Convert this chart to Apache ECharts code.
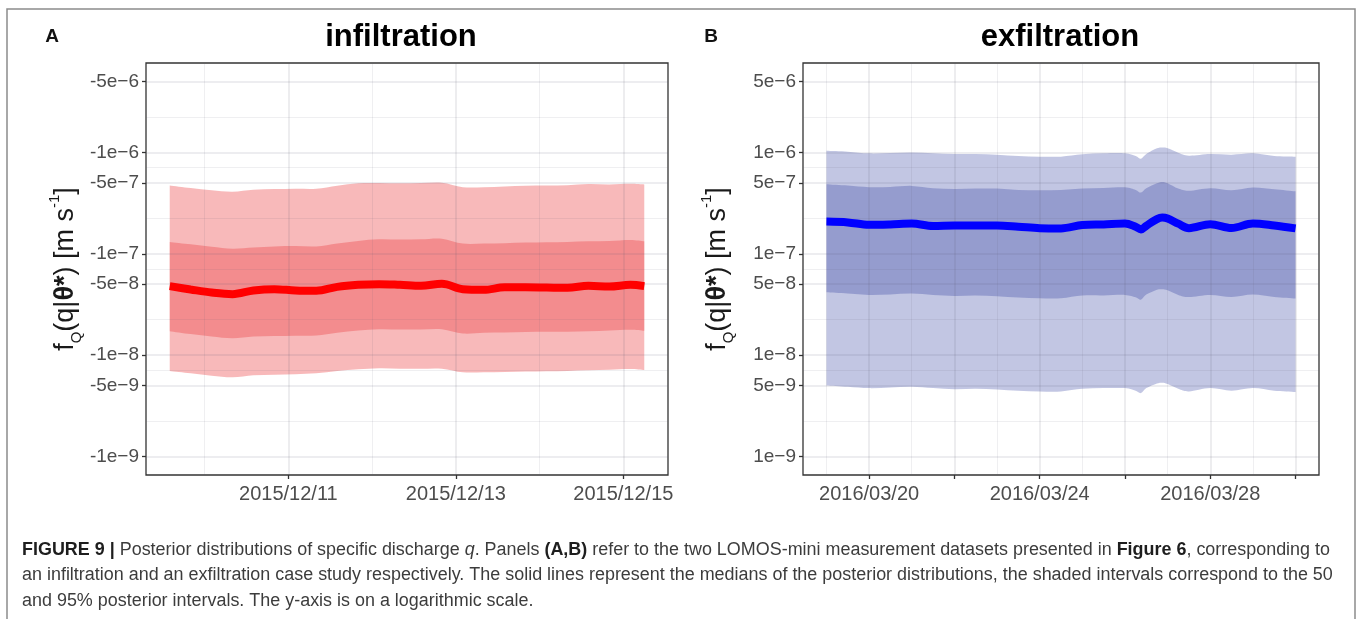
<!DOCTYPE html>
<html><head><meta charset="utf-8">
<script src="https://cdn.jsdelivr.net/npm/echarts@6/dist/echarts.min.js"></script>
<style>html,body{margin:0;padding:0;background:#fff}#c{width:1358px;height:619px}</style>
</head><body><div id="c"></div>
<script>
// ================= DATA =================
// Panel A (infiltration): times and posterior quantiles of q [m s^-1]
const timesA = ['2015-12-09 14:00','2015-12-09 20:00','2015-12-10 02:00','2015-12-10 08:00','2015-12-10 14:00','2015-12-10 20:00','2015-12-11 02:00','2015-12-11 08:00','2015-12-11 14:00','2015-12-11 20:00','2015-12-12 02:00','2015-12-12 08:00','2015-12-12 14:00','2015-12-12 20:00','2015-12-13 02:00','2015-12-13 08:00','2015-12-13 14:00','2015-12-13 20:00','2015-12-14 02:00','2015-12-14 08:00','2015-12-14 14:00','2015-12-14 20:00','2015-12-15 02:00','2015-12-15 06:00'];
const q025A = [-4.73e-7,-4.46e-7,-4.23e-7,-4.10e-7,-4.29e-7,-4.35e-7,-4.39e-7,-4.39e-7,-4.70e-7,-4.96e-7,-4.99e-7,-4.96e-7,-4.99e-7,-5.03e-7,-4.55e-7,-4.55e-7,-4.62e-7,-4.70e-7,-4.73e-7,-4.76e-7,-4.88e-7,-4.84e-7,-4.91e-7,-4.84e-7];
const q25A  = [-1.31e-7,-1.24e-7,-1.17e-7,-1.12e-7,-1.15e-7,-1.18e-7,-1.19e-7,-1.18e-7,-1.26e-7,-1.34e-7,-1.39e-7,-1.38e-7,-1.39e-7,-1.41e-7,-1.26e-7,-1.26e-7,-1.27e-7,-1.29e-7,-1.30e-7,-1.31e-7,-1.33e-7,-1.34e-7,-1.37e-7,-1.33e-7];
const medianA = [-4.79e-8,-4.44e-8,-4.14e-8,-3.99e-8,-4.34e-8,-4.47e-8,-4.34e-8,-4.31e-8,-4.71e-8,-4.93e-8,-5.01e-8,-4.93e-8,-4.82e-8,-5.05e-8,-4.47e-8,-4.40e-8,-4.67e-8,-4.67e-8,-4.64e-8,-4.61e-8,-4.82e-8,-4.75e-8,-4.93e-8,-4.79e-8];
const q75A  = [-1.72e-8,-1.61e-8,-1.52e-8,-1.46e-8,-1.52e-8,-1.54e-8,-1.55e-8,-1.56e-8,-1.66e-8,-1.75e-8,-1.80e-8,-1.79e-8,-1.79e-8,-1.80e-8,-1.63e-8,-1.66e-8,-1.67e-8,-1.69e-8,-1.70e-8,-1.70e-8,-1.72e-8,-1.75e-8,-1.78e-8,-1.74e-8];
const q975A = [-6.95e-9,-6.59e-9,-6.25e-9,-6.02e-9,-6.30e-9,-6.40e-9,-6.45e-9,-6.59e-9,-6.95e-9,-7.22e-9,-7.39e-9,-7.33e-9,-7.33e-9,-7.33e-9,-6.75e-9,-6.75e-9,-6.80e-9,-6.86e-9,-6.91e-9,-6.95e-9,-7.06e-9,-7.16e-9,-7.28e-9,-7.11e-9];

// Panel B (exfiltration)
const timesB = ['2016-03-19 00:00','2016-03-19 12:00','2016-03-20 00:00','2016-03-20 12:00','2016-03-21 00:00','2016-03-21 12:00','2016-03-22 00:00','2016-03-22 12:00','2016-03-23 00:00','2016-03-23 12:00','2016-03-24 00:00','2016-03-24 12:00','2016-03-25 00:00','2016-03-25 12:00','2016-03-26 00:00','2016-03-26 06:00','2016-03-26 09:00','2016-03-26 12:00','2016-03-26 18:00','2016-03-26 21:00','2016-03-27 00:00','2016-03-27 06:00','2016-03-27 12:00','2016-03-28 00:00','2016-03-28 12:00','2016-03-29 00:00','2016-03-29 12:00','2016-03-30 00:00'];
const q025B = [5.01e-9,4.86e-9,4.71e-9,4.78e-9,4.86e-9,4.71e-9,4.60e-9,4.64e-9,4.57e-9,4.43e-9,4.37e-9,4.37e-9,4.64e-9,4.71e-9,4.71e-9,4.43e-9,4.21e-9,4.71e-9,5.24e-9,5.32e-9,5.16e-9,4.64e-9,4.37e-9,4.71e-9,4.43e-9,4.71e-9,4.43e-9,4.31e-9];
const q25B  = [4.16e-8,4.04e-8,3.92e-8,3.97e-8,4.04e-8,3.92e-8,3.83e-8,3.86e-8,3.80e-8,3.69e-8,3.63e-8,3.63e-8,3.86e-8,3.88e-8,3.92e-8,3.72e-8,3.52e-8,3.95e-8,4.41e-8,4.45e-8,4.35e-8,3.92e-8,3.74e-8,3.92e-8,3.74e-8,3.95e-8,3.74e-8,3.61e-8];
const medianB = [2.08e-7,2.04e-7,1.93e-7,1.95e-7,1.99e-7,1.88e-7,1.90e-7,1.90e-7,1.90e-7,1.85e-7,1.79e-7,1.78e-7,1.92e-7,1.95e-7,1.99e-7,1.85e-7,1.74e-7,1.89e-7,2.20e-7,2.28e-7,2.23e-7,1.98e-7,1.79e-7,1.96e-7,1.80e-7,1.99e-7,1.90e-7,1.78e-7];
const q75B  = [4.85e-7,4.71e-7,4.54e-7,4.57e-7,4.68e-7,4.44e-7,4.37e-7,4.40e-7,4.40e-7,4.27e-7,4.24e-7,4.27e-7,4.40e-7,4.47e-7,4.54e-7,4.27e-7,4.02e-7,4.44e-7,4.97e-7,5.12e-7,4.97e-7,4.40e-7,4.18e-7,4.44e-7,4.24e-7,4.51e-7,4.34e-7,4.14e-7];
const q975B = [1.04e-6,1.02e-6,9.81e-7,9.89e-7,1.00e-6,9.81e-7,9.66e-7,9.66e-7,9.52e-7,9.24e-7,9.10e-7,9.10e-7,9.59e-7,9.81e-7,9.81e-7,9.24e-7,8.69e-7,9.66e-7,1.10e-6,1.12e-6,1.10e-6,9.96e-7,9.31e-7,9.66e-7,9.52e-7,9.81e-7,9.24e-7,9.10e-7];

// Axis breaks / tick labels
const yBreaks = [1e-9,5e-9,1e-8,5e-8,1e-7,5e-7,1e-6,5e-6];
const xTicksA  = ['2015-12-11 00:00','2015-12-13 00:00','2015-12-15 00:00'];
const xLabelsA = ['2015-12-11 00:00','2015-12-13 00:00','2015-12-15 00:00'];
const xMinorA  = ['2015-12-10 00:00','2015-12-12 00:00','2015-12-14 00:00'];
const xTicksB  = ['2016-03-20 00:00','2016-03-22 00:00','2016-03-24 00:00','2016-03-26 00:00','2016-03-28 00:00','2016-03-30 00:00'];
const xLabelsB = ['2016-03-20 00:00','2016-03-24 00:00','2016-03-28 00:00'];
const xMinorB  = ['2016-03-19 00:00','2016-03-21 00:00','2016-03-23 00:00','2016-03-25 00:00','2016-03-27 00:00','2016-03-29 00:00'];

const titleA = 'infiltration', titleB = 'exfiltration';
const captionLines = [
  [['b','FIGURE 9 | '],['n','Posterior distributions of specific discharge '],['i','q'],['n','. Panels '],['b','(A,B)'],['n',' refer to the two LOMOS-mini measurement datasets presented in '],['b','Figure 6'],['n',', corresponding to']],
  [['n','an infiltration and an exfiltration case study respectively. The solid lines represent the medians of the posterior distributions, the shaded intervals correspond to the 50']],
  [['n','and 95% posterior intervals. The y-axis is on a logarithmic scale.']]
];

// ================= HELPERS =================
const FONT = "'Liberation Sans', Arial, sans-serif";
function toMs(s){ const p = s.split(' '); const d = p[0].split('-').map(Number); const t = (p[1]||'00:00').split(':').map(Number); return new Date(d[0], d[1]-1, d[2], t[0], t[1]).getTime(); }
function padRange(arr){ const a = toMs(arr[0]), b = toMs(arr[arr.length-1]); const p = (b-a)*0.05; return [a-p, b+p]; }
function dateLabel(v){ const d = new Date(v); return d.getFullYear()+'/'+String(d.getMonth()+1).padStart(2,'0')+'/'+String(d.getDate()).padStart(2,'0'); }
function sci(v){ const e = Math.floor(Math.log10(v)+1e-9); const m = Math.round(v/Math.pow(10,e)); return m+'e'+(e<0?'\u2212':'')+Math.abs(e); }
const lg0 = Math.log10(yBreaks[0]), lg1 = Math.log10(yBreaks[yBreaks.length-1]), sp = (lg1-lg0)*0.05;
const yMin = Math.pow(10, lg0-sp), yMax = Math.pow(10, lg1+sp);
const yMinor = yBreaks.slice(1).map((b,i)=>Math.sqrt(b*yBreaks[i]));

const majorLine = {show:true, lineStyle:{color:'rgba(90,90,115,0.14)', width:1.6}};
const minorLine = {show:true, lineStyle:{color:'rgba(90,90,115,0.11)', width:0.9}};

function xAxes(gi, times, ticks, labels, minors){
  const r = padRange(times);
  return [
    {type:'value', gridIndex:gi, min:r[0], max:r[1], z:3,
     axisLine:{show:false},
     axisTick:{show:true, customValues:ticks.map(toMs), length:4, lineStyle:{color:'#333', width:1.3}},
     axisLabel:{show:true, customValues:labels.map(toMs), formatter:dateLabel, color:'#4D4D4D', fontSize:20, margin:9, fontFamily:FONT},
     splitLine:majorLine},
    {type:'value', gridIndex:gi, min:r[0], max:r[1], z:3,
     axisLine:{show:false}, axisTick:{show:false, customValues:minors.map(toMs)}, axisLabel:{show:false}, splitLine:minorLine}
  ];
}
function yAxes(gi, neg){
  return [
    {type:'log', logBase:10, gridIndex:gi, min:yMin, max:yMax, z:3,
     axisLine:{show:false},
     axisTick:{show:true, customValues:yBreaks, length:4, lineStyle:{color:'#333', width:1.3}},
     axisLabel:{show:true, customValues:yBreaks, formatter:v=>(neg?'-':'')+sci(v), color:'#4D4D4D', fontSize:19, margin:7, fontFamily:FONT},
     splitLine:majorLine},
    {type:'log', logBase:10, gridIndex:gi, min:yMin, max:yMax, z:3, position:'left',
     axisLine:{show:false}, axisTick:{show:false, customValues:yMinor}, axisLabel:{show:false}, splitLine:minorLine}
  ];
}
// Catmull-Rom spline through pixel points -> cubic Bezier path segments
function curve(P){
  let s = '';
  for (let i=0;i<P.length-1;i++){
    const p0=P[Math.max(i-1,0)], p1=P[i], p2=P[i+1], p3=P[Math.min(i+2,P.length-1)];
    const k = 1/6;
    const c1=[p1[0]+(p2[0]-p0[0])*k, p1[1]+(p2[1]-p0[1])*k];
    const c2=[p2[0]-(p3[0]-p1[0])*k, p2[1]-(p3[1]-p1[1])*k];
    s += 'C'+c1[0].toFixed(2)+','+c1[1].toFixed(2)+' '+c2[0].toFixed(2)+','+c2[1].toFixed(2)+' '+p2[0].toFixed(2)+','+p2[1].toFixed(2);
  }
  return s;
}
function bandSeries(ai, times, lo, hi, color){
  const data = times.map((t,i)=>[toMs(t), Math.abs(lo[i]), Math.abs(hi[i])]);
  return {type:'custom', xAxisIndex:ai, yAxisIndex:ai, z:2, silent:true, clip:true, animation:false,
    dimensions:['t','lo','hi'], encode:{x:0, y:[1,2]}, data:data,
    renderItem:function(params, api){
      if (params.dataIndexInside !== 0) return null;
      const up = [], dn = [];
      for (let i=0;i<data.length;i++){
        up.push(api.coord([api.value(0,i), api.value(2,i)]));
        dn.push(api.coord([api.value(0,i), api.value(1,i)]));
      }
      dn.reverse();
      const pathData = 'M'+up[0][0].toFixed(2)+','+up[0][1].toFixed(2)+curve(up)+'L'+dn[0][0].toFixed(2)+','+dn[0][1].toFixed(2)+curve(dn)+'Z';
      return {type:'path', shape:{pathData:pathData}, style:{fill:color, stroke:null}};
    }};
}
function medianSeries(ai, times, med, color){
  return {type:'line', xAxisIndex:ai, yAxisIndex:ai, symbol:'none', smooth:0.35, silent:true, animation:false, z:4,
    data: times.map((t,i)=>[toMs(t), Math.abs(med[i])]), lineStyle:{color:color, width:8}};
}

// caption measuring (to emulate condensed caption font)
const CAPSIZE = 18, CAPW = 1308;
const ctx = document.createElement('canvas').getContext('2d');
function segFont(s){ return (s==='i'?'italic ':'')+(s==='b'?'bold ':'')+CAPSIZE+'px '+FONT; }
function measureLine(line){ let w=0; line.forEach(([s,t])=>{ ctx.font = segFont(s); w += ctx.measureText(t).width; }); return w; }
const capScale = CAPW / measureLine(captionLines[0]);
const capRich = {
  b:{fontWeight:'bold', fontSize:CAPSIZE, fontFamily:FONT, fill:'#1e1e1e'},
  n:{fontSize:CAPSIZE, fontFamily:FONT, fill:'#3c3c3c'},
  i:{fontStyle:'italic', fontSize:CAPSIZE, fontFamily:FONT, fill:'#3c3c3c'}
};
const captionGraphics = captionLines.map((line,k)=>({
  type:'text', x:22, y:550 + k*25.5, scaleX:capScale, z:10,
  style:{text: line.map(([s,t])=>'{'+s+'|'+t+'}').join(''), rich:capRich, align:'left', verticalAlign:'middle'}
}));

function yTitle(x){
  return {type:'text', x:x, y:269, rotation:Math.PI/2, z:10,
    style:{text:'{n|f}{sub|Q}{n|(q|}{b|\u03B8*}{n|) [m s}{sup|-1}{n|]}', align:'center', verticalAlign:'middle',
      rich:{
        n:{fontSize:27, fontFamily:FONT, fill:'#1a1a1a', lineHeight:37},
        b:{fontSize:27, fontFamily:FONT, fontWeight:'bold', fill:'#1a1a1a', lineHeight:37},
        sub:{fontSize:15, fontFamily:FONT, fill:'#1a1a1a', verticalAlign:'bottom', lineHeight:17},
        sup:{fontSize:15, fontFamily:FONT, fill:'#1a1a1a', verticalAlign:'top', lineHeight:17}
      }}};
}

// ================= CHART =================
const chart = echarts.init(document.getElementById('c'), null, {renderer:'canvas'});
const RED = 'rgba(235,60,65,0.36)', BLUE = 'rgba(30,45,150,0.27)';
const option = {
  animation:false,
  backgroundColor:'#fff',
  textStyle:{fontFamily:FONT},
  grid:[
    {left:146, top:63, width:522, height:412, show:true, borderColor:'#333', borderWidth:1.3, backgroundColor:'transparent'},
    {left:803, top:63, width:516, height:412, show:true, borderColor:'#333', borderWidth:1.3, backgroundColor:'transparent'}
  ],
  xAxis: [].concat(xAxes(0, timesA, xTicksA, xLabelsA, xMinorA), xAxes(1, timesB, xTicksB, xLabelsB, xMinorB)),
  yAxis: [].concat(yAxes(0, true), yAxes(1, false)),
  series: [
    bandSeries(0, timesA, q975A, q025A, RED),
    bandSeries(0, timesA, q75A, q25A, RED),
    medianSeries(0, timesA, medianA, '#FF0000'),
    bandSeries(2, timesB, q025B, q975B, BLUE),
    bandSeries(2, timesB, q25B, q75B, BLUE),
    medianSeries(2, timesB, medianB, '#0000FF')
  ],
  graphic:[
    {type:'rect', shape:{x:7, y:9, width:1348, height:650}, style:{fill:'none', stroke:'#8c8c8c', lineWidth:1.5}, z:10, silent:true},
    {type:'text', x:52, y:37, z:10, style:{text:'A', fontSize:19, fontWeight:'bold', fontFamily:FONT, fill:'#111', align:'center', verticalAlign:'middle'}},
    {type:'text', x:711, y:37, z:10, style:{text:'B', fontSize:19, fontWeight:'bold', fontFamily:FONT, fill:'#111', align:'center', verticalAlign:'middle'}},
    {type:'text', x:401, y:37, z:10, style:{text:titleA, fontSize:31, fontWeight:'bold', fontFamily:FONT, fill:'#000', align:'center', verticalAlign:'middle'}},
    {type:'text', x:1060, y:37, z:10, style:{text:titleB, fontSize:31, fontWeight:'bold', fontFamily:FONT, fill:'#000', align:'center', verticalAlign:'middle'}},
    yTitle(66), yTitle(718)
  ].concat(captionGraphics)
};
chart.setOption(option);
</script>
</body></html>
